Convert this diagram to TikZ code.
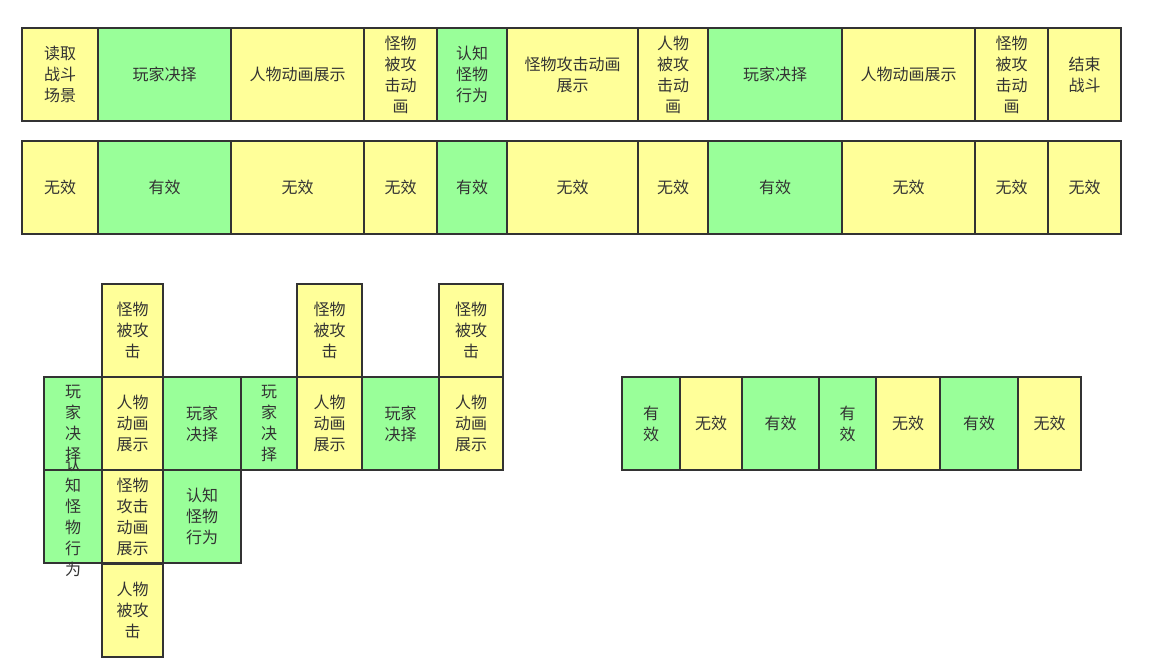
\documentclass[tikz,border=0pt]{standalone}
\usepackage{fontspec}
\newfontfamily\cjk{Noto Sans CJK SC}
\definecolor{cyel}{HTML}{FFFF99}
\definecolor{cgrn}{HTML}{99FF99}
\definecolor{cline}{HTML}{333333}
\newcommand\cellfont{\cjk\fontsize{16}{21}\selectfont}
\begin{document}
\begin{tikzpicture}[x=1pt,y=-1pt,
  cell/.style={draw=cline,line width=2pt,inner sep=0pt,align=center,text=cline,font=\cellfont,minimum height=93pt},
  yel/.style={cell,fill=cyel},
  grn/.style={cell,fill=cgrn}]
\useasboundingbox (0,0) rectangle (1155,669);
% row 1: steps
\node[yel,minimum width=76pt] (t1) at (60,74.5) {读取\\战斗\\场景};
\node[grn,minimum width=133pt] (t2) at (164.5,74.5) {玩家决择};
\node[yel,minimum width=133pt] (t3) at (297.5,74.5) {人物动画展示};
\node[yel,minimum width=73pt] (t4) at (400.5,74.5) {怪物\\被攻\\击动\\画};
\node[grn,minimum width=70pt] (t5) at (472,74.5) {认知\\怪物\\行为};
\node[yel,minimum width=131pt] (t6) at (572.5,74.5) {怪物攻击动画\\展示};
\node[yel,minimum width=70pt] (t7) at (673,74.5) {人物\\被攻\\击动\\画};
\node[grn,minimum width=134pt] (t8) at (775,74.5) {玩家决择};
\node[yel,minimum width=133pt] (t9) at (908.5,74.5) {人物动画展示};
\node[yel,minimum width=73pt] (t10) at (1011.5,74.5) {怪物\\被攻\\击动\\画};
\node[yel,minimum width=73pt] (t11) at (1084.5,74.5) {结束\\战斗};
% row 2: valid or not
\node[yel,minimum width=76pt] (v1) at (60,187.5) {无效};
\node[grn,minimum width=133pt] (v2) at (164.5,187.5) {有效};
\node[yel,minimum width=133pt] (v3) at (297.5,187.5) {无效};
\node[yel,minimum width=73pt] (v4) at (400.5,187.5) {无效};
\node[grn,minimum width=70pt] (v5) at (472,187.5) {有效};
\node[yel,minimum width=131pt] (v6) at (572.5,187.5) {无效};
\node[yel,minimum width=70pt] (v7) at (673,187.5) {无效};
\node[grn,minimum width=134pt] (v8) at (775,187.5) {有效};
\node[yel,minimum width=133pt] (v9) at (908.5,187.5) {无效};
\node[yel,minimum width=73pt] (v10) at (1011.5,187.5) {无效};
\node[yel,minimum width=73pt] (v11) at (1084.5,187.5) {无效};
% grid below
\node[yel,minimum width=61pt] (m1) at (132.5,330) {怪物\\被攻\\击};
\node[yel,minimum width=65pt] (m2) at (329.5,330) {怪物\\被攻\\击};
\node[yel,minimum width=64pt] (m3) at (471,330) {怪物\\被攻\\击};
\node[grn,minimum width=58pt] (c1) at (73,423.5) {玩\\家\\决\\择};
\node[yel,minimum width=61pt] (a1) at (132.5,423.5) {人物\\动画\\展示};
\node[grn,minimum width=78pt] (c2) at (202,423.5) {玩家\\决择};
\node[grn,minimum width=56pt] (c3) at (269,423.5) {玩\\家\\决\\择};
\node[yel,minimum width=65pt] (a2) at (329.5,423.5) {人物\\动画\\展示};
\node[grn,minimum width=77pt] (c4) at (400.5,423.5) {玩家\\决择};
\node[yel,minimum width=64pt] (a3) at (471,423.5) {人物\\动画\\展示};
\node[grn,minimum width=58pt,label={[cell,draw=none,fill=none]center:认\\知\\怪\\物\\行\\为}] (k1) at (73,516.5) {};
\node[yel,minimum width=61pt] (s1) at (132.5,516.5) {怪物\\攻击\\动画\\展示};
\node[grn,minimum width=78pt] (k2) at (202,516.5) {认知\\怪物\\行为};
\node[yel,minimum width=61pt] (h1) at (132.5,610) {人物\\被攻\\击};
% right row
\node[grn,minimum width=58pt] (e1) at (651,423.5) {有\\效};
\node[yel,minimum width=62pt] (e2) at (711,423.5) {无效};
\node[grn,minimum width=77pt] (e3) at (780.5,423.5) {有效};
\node[grn,minimum width=57pt] (e4) at (847.5,423.5) {有\\效};
\node[yel,minimum width=64pt] (e5) at (908,423.5) {无效};
\node[grn,minimum width=78pt] (e6) at (979,423.5) {有效};
\node[yel,minimum width=63pt] (e7) at (1049.5,423.5) {无效};
\end{tikzpicture}
\end{document}
